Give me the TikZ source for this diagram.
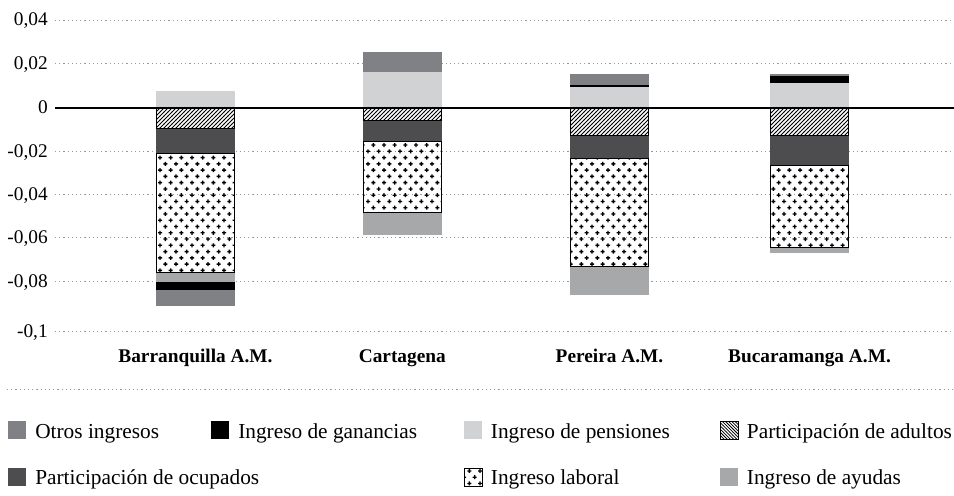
\documentclass[tikz,border=0pt]{standalone}
\usepackage{fontspec}
\setmainfont{Liberation Serif}
\usetikzlibrary{patterns}
\definecolor{cotros}{HTML}{808184}
\definecolor{cpens}{HTML}{D1D2D4}
\definecolor{cocup}{HTML}{4D4D4F}
\definecolor{cayud}{HTML}{A7A8AA}
\definecolor{cgrid}{HTML}{9A9A9A}
\pgfdeclarepatternformonly{labdots}{\pgfqpoint{-2pt}{-2pt}}{\pgfqpoint{10pt}{11pt}}{\pgfqpoint{8pt}{9.4pt}}{%
  \pgfpathrectangle{\pgfqpoint{-1.5pt}{-0.5pt}}{\pgfqpoint{3pt}{1pt}}%
  \pgfpathrectangle{\pgfqpoint{-0.5pt}{-1.5pt}}{\pgfqpoint{1pt}{3pt}}%
  \pgfpathrectangle{\pgfqpoint{2.5pt}{4.2pt}}{\pgfqpoint{3pt}{1pt}}%
  \pgfpathrectangle{\pgfqpoint{3.5pt}{3.2pt}}{\pgfqpoint{1pt}{3pt}}%
  \pgfusepath{fill}}
\pgfdeclarepatternformonly{hatchne}{\pgfqpoint{-1pt}{-1pt}}{\pgfqpoint{4pt}{4pt}}{\pgfqpoint{3pt}{3pt}}{%
  \pgfsetlinewidth{0.6pt}%
  \pgfpathmoveto{\pgfqpoint{-0.1pt}{-0.1pt}}\pgfpathlineto{\pgfqpoint{3.1pt}{3.1pt}}%
  \pgfusepath{stroke}}
\pgfdeclarepatternformonly{hatchnw}{\pgfqpoint{-1pt}{-1pt}}{\pgfqpoint{4pt}{4pt}}{\pgfqpoint{2.4pt}{2.4pt}}{%
  \pgfsetlinewidth{0.55pt}%
  \pgfpathmoveto{\pgfqpoint{-0.1pt}{2.5pt}}\pgfpathlineto{\pgfqpoint{2.5pt}{-0.1pt}}%
  \pgfusepath{stroke}}
\tikzset{
  segotros/.style={fill=cotros},
  seggan/.style={fill=black},
  segpens/.style={fill=cpens},
  segocup/.style={fill=cocup},
  segayud/.style={fill=cayud},
  seghatch/.style={pattern=hatchne, draw=black, line width=0.75pt},
  seglab/.style={pattern=labdots, draw=black, line width=0.75pt},
  gridln/.style={cgrid, line width=0.75pt, dash pattern=on 0.9pt off 2.25pt},
  zeroln/.style={black, line width=1.5pt},
  axlbl/.style={anchor=base east, inner sep=0pt, font=\fontsize{14.5}{16}\selectfont},
  catlbl/.style={anchor=base, inner sep=0pt, font=\fontsize{14.5}{17}\selectfont\bfseries},
  leglbl/.style={anchor=base west, inner sep=0pt, font=\fontsize{16}{19}\selectfont},
  legsq/.style={minimum size=13.5pt, inner sep=0pt, outer sep=0pt, anchor=north west}
}
\begin{document}
\begin{tikzpicture}[x=0.75pt, y=-0.75pt]
\useasboundingbox (0,0) rectangle (954,496);
% grid lines
\foreach \yy in {20,63.3,151,194.3,237.7,281,331}
  \draw[gridln] (55,\yy) -- (954,\yy);
% axis labels
\node[axlbl] (y1) at (48,26) {0,04};
\node[axlbl] (y2) at (48,69.3) {0,02};
\node[axlbl] (y3) at (48,113.7) {0};
\node[axlbl] (y4) at (48,157) {-0,02};
\node[axlbl] (y5) at (48,200.3) {-0,04};
\node[axlbl] (y6) at (48,243.7) {-0,06};
\node[axlbl] (y7) at (48,287) {-0,08};
\node[axlbl] (y8) at (48,337) {-0,1};
% Barranquilla
\fill[segpens] (156,91) rectangle (235,107.7);
\fill[segocup] (156,128.3) rectangle (235,153.7);
\fill[segayud] (156,272.3) rectangle (235,282);
\fill[seggan] (156,282) rectangle (235,290);
\fill[segotros] (156,290) rectangle (235,305.7);
\draw[seghatch] (156.8,107.7) rectangle (234.2,128.3);
\draw[seglab] (156.8,153.7) rectangle (234.2,272.3);
% Cartagena
\fill[segotros] (362.7,52.3) rectangle (442,72);
\fill[segpens] (362.7,72) rectangle (442,107.7);
\fill[segocup] (362.7,120.7) rectangle (442,141);
\fill[segayud] (362.7,212.3) rectangle (442,235);
\draw[seghatch] (363.5,107.7) rectangle (441.2,120.7);
\draw[seglab] (363.5,141) rectangle (441.2,212.3);
% Pereira
\fill[segotros] (570,74) rectangle (649,85);
\fill[seggan] (570,85) rectangle (649,87);
\fill[segpens] (570,87) rectangle (649,107.7);
\fill[segocup] (570,135.7) rectangle (649,158.3);
\fill[segayud] (570,266) rectangle (649,294.7);
\draw[seghatch] (570.8,107.7) rectangle (648.2,135.7);
\draw[seglab] (570.8,158.3) rectangle (648.2,266);
% Bucaramanga
\fill[segotros] (770,74) rectangle (849,76);
\fill[seggan] (770,76) rectangle (849,83);
\fill[segpens] (770,83) rectangle (849,107.7);
\fill[segocup] (770,135.7) rectangle (849,165);
\fill[segayud] (770,247.7) rectangle (849,252.7);
\draw[seghatch] (770.8,107.7) rectangle (848.2,135.7);
\draw[seglab] (770.8,165) rectangle (848.2,247.7);
% zero line
\draw[zeroln] (55,107.7) -- (954,107.7);
% category labels
\node[catlbl] (cB) at (195.5,362) {Barranquilla A.M.};
\node[catlbl] (cC) at (402.3,362) {Cartagena};
\node[catlbl] (cP) at (609.5,362) {Pereira A.M.};
\node[catlbl] (cU) at (809.5,362) {Bucaramanga A.M.};
% separator
\draw[gridln] (7,389.3) -- (954,389.3);
% legend row 1
\node[legsq, fill=cotros] (s1) at (8,421) {};
\node[leglbl] (l1) at (35,438.5) {Otros ingresos};
\node[legsq, fill=black] (s2) at (210.5,421) {};
\node[leglbl] (l2) at (238,438.5) {Ingreso de ganancias};
\node[legsq, fill=cpens] (s3) at (464,421) {};
\node[leglbl] (l3) at (490.7,438.5) {Ingreso de pensiones};
\node[legsq, pattern=hatchnw, draw=black, line width=0.6pt] (s4) at (720.5,421.5) {};
\node[leglbl] (l4) at (746.7,438.5) {Participación de adultos};
% legend row 2
\node[legsq, fill=cocup] (s5) at (8,467.5) {};
\node[leglbl] (l5) at (35,484) {Participación de ocupados};
\node[legsq, pattern=labdots, draw=black, line width=0.6pt] (s6) at (464.5,468) {};
\node[leglbl] (l6) at (490.7,484) {Ingreso laboral};
\node[legsq, fill=cayud] (s7) at (720,467.5) {};
\node[leglbl] (l7) at (746.7,484) {Ingreso de ayudas};
\end{tikzpicture}
\end{document}
